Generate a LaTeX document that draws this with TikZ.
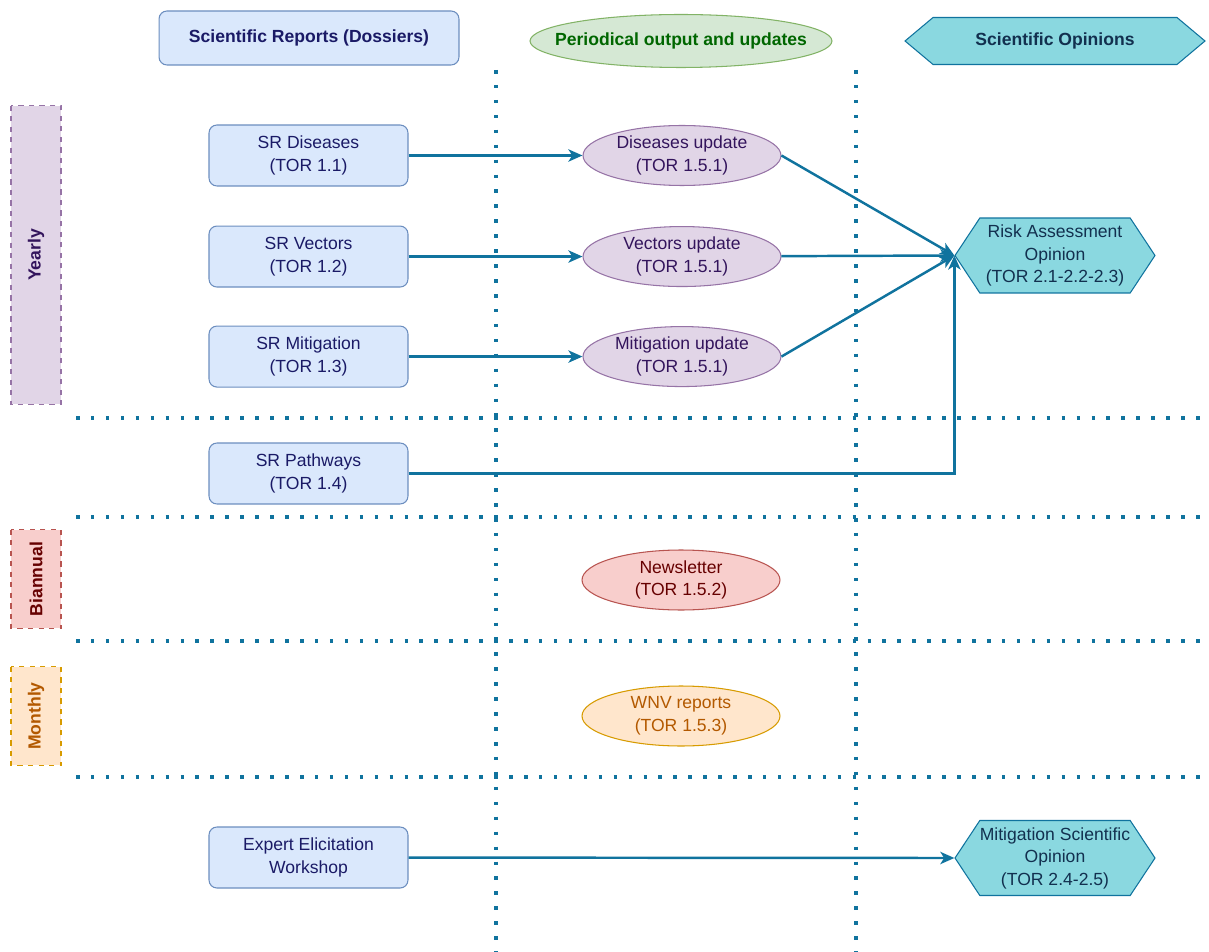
\documentclass[tikz,border=0pt]{standalone}
\usepackage{fontspec}
\setmainfont{Liberation Sans}
\usetikzlibrary{positioning,arrows.meta,shapes.geometric,shapes.symbols}

\definecolor{flow}{HTML}{10739E}
\definecolor{srfill}{HTML}{DAE8FC}
\definecolor{srline}{HTML}{6C8EBF}
\definecolor{srtext}{HTML}{1A1A66}
\definecolor{yrfill}{HTML}{E1D5E7}
\definecolor{yrline}{HTML}{9673A6}
\definecolor{yrtext}{HTML}{33145C}
\definecolor{bifill}{HTML}{F8CECC}
\definecolor{biline}{HTML}{B85450}
\definecolor{bitext}{HTML}{660000}
\definecolor{mofill}{HTML}{FFE6CC}
\definecolor{moline}{HTML}{D79B00}
\definecolor{motext}{HTML}{B35900}
\definecolor{pofill}{HTML}{D5E8D4}
\definecolor{poline}{HTML}{82B366}
\definecolor{potext}{HTML}{006600}
\definecolor{opfill}{HTML}{8AD8E0}
\definecolor{optext}{HTML}{12304F}

\begin{document}
\begin{tikzpicture}[
    x=0.02cm, y=-0.02cm,
    font=\fontsize{10}{12.8}\selectfont,
    node distance=0.78cm,
    report/.style={
        draw=srline,
        fill=srfill,
        text=srtext,
        rounded corners=4.5pt,
        align=center,
        line width=0.6pt,
        minimum width=3.98cm,
        minimum height=1.22cm
    },
    update/.style={
        ellipse,
        draw=#1line,
        fill=#1fill,
        text=#1text,
        align=center,
        inner sep=0pt,
        line width=0.6pt,
        minimum width=3.96cm,
        minimum height=1.2cm
    },
    opinion/.style={
        signal,
        signal to=west and east,
        signal pointer angle=113,
        draw=flow,
        fill=opfill,
        text=optext,
        align=center,
        inner xsep=0pt,
        inner ysep=1pt,
        line width=0.6pt,
        minimum width=4cm,
        minimum height=1.5cm
    },
    period/.style={
        draw=#1line,
        fill=#1fill,
        text=#1text,
        dashed,
        rotate=90,
        font=\fontsize{10}{12.8}\selectfont\bfseries,
        line width=0.6pt,
        minimum height=1cm
    },
    grid/.style={draw=flow, line width=2pt, dash pattern=on 2pt off 6.5pt},
    arrow/.style={-{Stealth[length=8pt,width=7pt,inset=2.2pt]}, draw=flow, line width=1.4pt}
]
\useasboundingbox (0,0) rectangle (1209,952);

% dotted grid
\coordinate (colA top) at (496,70);
\coordinate (colA bot) at (496,952);
\coordinate (colB top) at (856,70);
\coordinate (colB bot) at (856,952);
\draw[grid] (colA top) -- (colA bot);
\draw[grid] (colB top) -- (colB bot);
\foreach \y in {418,517,641,777}
    \draw[grid] (76,\y) -- (1212,\y);

% column headers
\node[report, font=\fontsize{10}{12.8}\selectfont\bfseries, minimum width=6cm, minimum height=1.08cm] (hdrsr) at (309,38) {Scientific Reports (Dossiers)};
\node[update=po, font=\fontsize{10}{12.8}\selectfont\bfseries, inner xsep=-11.5pt, minimum width=6.04cm, minimum height=1.06cm] (hdrpo) at (681,41) {Periodical output and updates};
\node[opinion, font=\fontsize{10}{12.8}\selectfont\bfseries, signal pointer angle=80, minimum width=6cm, minimum height=0.94cm] (hdrop) at (1055,41) {Scientific Opinions};

% periods
\node[period=yr, minimum width=5.98cm] (yearly) at (36,255) {Yearly};
\node[period=bi, minimum width=1.98cm] (biannual) at (36,579) {Biannual};
\node[period=mo, minimum width=1.98cm] (monthly) at (36,716) {Monthly};

% scientific reports
\node[report] (srd) at (308.5,155.5) {SR Diseases\\(TOR 1.1)};
\node[report, below=of srd] (srv) {SR Vectors\\(TOR 1.2)};
\node[report, below=0.76cm of srv] (srm) {SR Mitigation\\(TOR 1.3)};
\node[report] (srp) at (308.5,473.5) {SR Pathways\\(TOR 1.4)};
\node[report] (eew) at (308.5,857.5) {Expert Elicitation\\Workshop};

% periodical outputs
\node[update=yr, right=3.48cm of srd] (dupd) {Diseases update\\(TOR 1.5.1)};
\node[update=yr, right=3.48cm of srv] (vupd) {Vectors update\\(TOR 1.5.1)};
\node[update=yr, right=3.48cm of srm] (mupd) {Mitigation update\\(TOR 1.5.1)};
\node[update=bi] (news) at (681,580) {Newsletter\\(TOR 1.5.2)};
\node[update=mo] (wnv) at (681,716) {WNV reports\\(TOR 1.5.3)};

% opinions
\node[opinion] (rao) at (1055,255.5) {Risk Assessment\\Opinion\\(TOR 2.1-2.2-2.3)};
\node[opinion] (mso) at (1055,858) {Mitigation Scientific\\Opinion\\(TOR 2.4-2.5)};

\draw[arrow] (srd) -- (dupd);
\draw[arrow] (srv) -- (vupd);
\draw[arrow] (srm) -- (mupd);
\draw[arrow] (dupd.east) -- (rao.west);
\draw[arrow] (vupd) -- (rao.west);
\draw[arrow] (mupd.east) -- (rao.west);
\draw[arrow] (srp) -| (rao.west);
\draw[arrow] (eew) -- (mso.west);

\end{tikzpicture}
\end{document}
